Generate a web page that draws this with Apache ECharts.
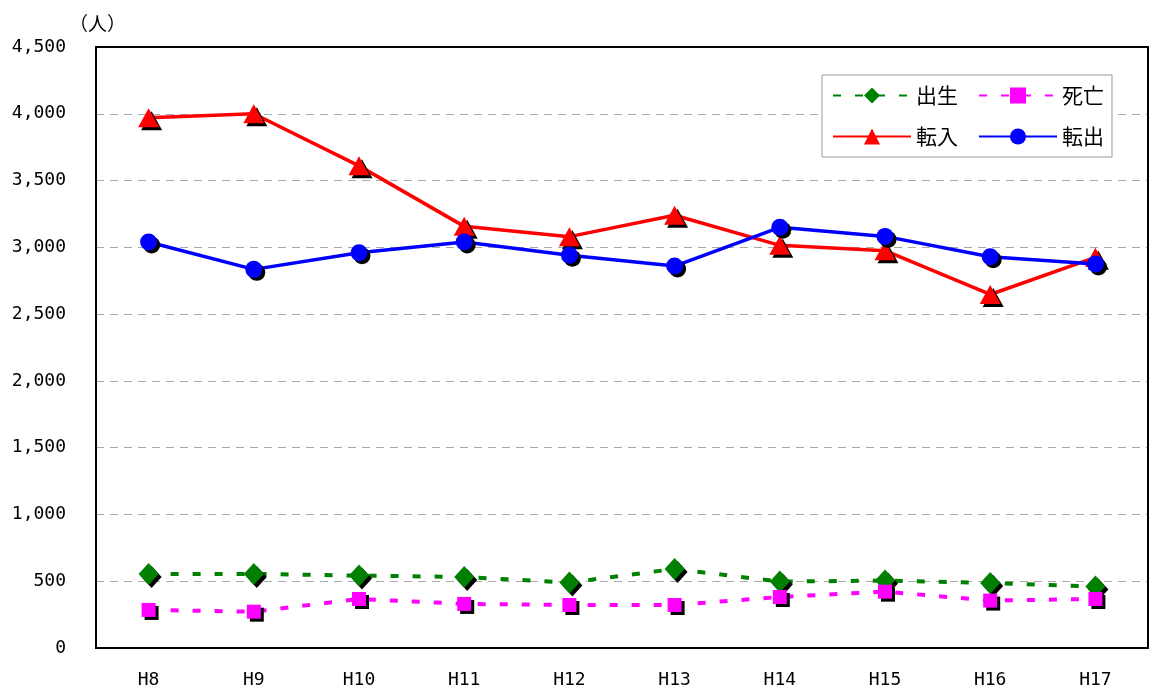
<!DOCTYPE html>
<html><head><meta charset="utf-8">
<script src="https://cdn.jsdelivr.net/npm/echarts@6/dist/echarts.min.js"></script>
<style>html,body{margin:0;padding:0;background:#fff}#c{width:1150px;height:693px}</style>
</head><body><div id="c"></div>
<script>
const categories = ['H8','H9','H10','H11','H12','H13','H14','H15','H16','H17'];
const births = [555, 555, 542, 532, 490, 592, 497, 505, 487, 460];
const deaths = [285, 272, 367, 330, 322, 322, 382, 422, 355, 367];
const moveIn = [3970, 4000, 3610, 3157, 3080, 3240, 3015, 2975, 2647, 2925];
const moveOut = [3040, 2835, 2960, 3040, 2940, 2860, 3150, 3082, 2930, 2875];
const yTicks = {min: 0, max: 4500, interval: 500};
const seriesNames = ['出生','死亡','転入','転出'];

const fmt = v => String(v).replace(/\B(?=(\d{3})+(?!\d))/g, ',');
const shadow = {shadowColor:'#000', shadowBlur:0, shadowOffsetX:3, shadowOffsetY:3};
const font = '"DejaVu Sans Mono","Liberation Mono",monospace';

const chart = echarts.init(document.getElementById('c'), null, {renderer:'canvas'});
chart.setOption({
  animation:false,
  title:{text:'（人）', left:64, top:9, textStyle:{fontSize:19, fontWeight:'normal', color:'#000', fontFamily:'"Noto Sans CJK JP",sans-serif'}},
  grid:{left:96, right:2, top:47, bottom:45, show:false},
  graphic:[{type:'rect', z:100, silent:true, shape:{x:96, y:47, width:1052, height:601},
    style:{fill:'none', stroke:'#000', lineWidth:2}}],
  legend:{
    left:822, top:75, width:280, itemWidth:78, itemHeight:20, itemGap:20,
    padding:[10,8,10,10], borderColor:'#999', borderWidth:1, backgroundColor:'#fff',
    textStyle:{fontSize:21, color:'#000', fontFamily:'"Noto Sans CJK JP",sans-serif'},
    itemStyle:{shadowColor:'transparent', shadowOffsetX:0, shadowOffsetY:0},
    data: seriesNames
  },
  xAxis:{
    type:'category', data:categories, boundaryGap:true,
    axisLine:{lineStyle:{color:'#000', width:2}},
    axisTick:{inside:true, length:7, lineStyle:{color:'#555'}},
    axisLabel:{fontSize:18, color:'#000', fontFamily:font, margin:23}
  },
  yAxis:{
    type:'value', min:yTicks.min, max:yTicks.max, interval:yTicks.interval,
    axisLine:{show:true, lineStyle:{color:'#000', width:2}},
    axisTick:{show:false},
    axisLabel:{fontSize:18, color:'#000', fontFamily:font, margin:30, formatter:fmt},
    splitLine:{showMinLine:false, showMaxLine:false, lineStyle:{color:'#aaa', type:[8,6], width:1}}
  },
  series:[
    {name:seriesNames[0], type:'line', data:births, symbol:'diamond', symbolSize:[20,22],
     lineStyle:{color:'#008000', width:4, type:[8,14]}, itemStyle:Object.assign({color:'#008000'}, shadow), z:3},
    {name:seriesNames[1], type:'line', data:deaths, symbol:'rect', symbolSize:14,
     lineStyle:{color:'#ff00ff', width:4, type:[8,14]}, itemStyle:Object.assign({color:'#ff00ff'}, shadow), z:3},
    {name:seriesNames[2], type:'line', data:moveIn, symbol:'triangle', symbolSize:[21,19],
     lineStyle:{color:'#ff0000', width:3.5}, itemStyle:Object.assign({color:'#ff0000'}, shadow), z:4},
    {name:seriesNames[3], type:'line', data:moveOut, symbol:'circle', symbolSize:17,
     lineStyle:{color:'#0000ff', width:3.5}, itemStyle:Object.assign({color:'#0000ff'}, shadow), z:5}
  ]
});
</script></body></html>
